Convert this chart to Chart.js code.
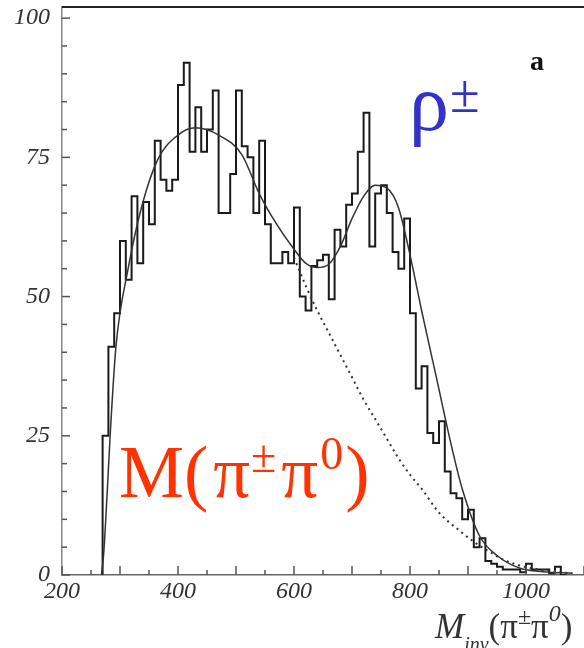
<!DOCTYPE html>
<html><head><meta charset="utf-8">
<script src="https://cdn.jsdelivr.net/npm/chart.js@4.4.0/dist/chart.umd.min.js"></script>
<style>html,body{margin:0;padding:0;background:#fff;overflow:hidden}</style>
</head><body>
<canvas id="c" width="584" height="648" style="display:block;width:584px;height:648px"></canvas>
<script>
// histogram bins (lower edge, MeV) and counts
const binLowEdges = [270,280,290,300,310,320,330,340,350,360,370,380,390,400,410,420,430,440,450,460,
  470,480,490,500,510,520,530,540,550,560,570,580,590,600,610,620,630,640,650,660,
  670,680,690,700,710,720,730,740,750,760,770,780,790,800,810,820,830,840,850,860,
  870,880,890,900,910,920,930,940,950,960,970,980,990,1000,1010,1020,1030,1040,1050,1060];
const counts = [4,25,41,47,60,53,68,56,67,63,78,71,69,71,88,92,76,84,76,80,
  87,65,65,72,87,77,75,65,78,63,56,56,58,56,66,50,47.5,55.5,56.5,57.5,
  49.5,62,59,66.5,68.5,76,83,59,68.5,70,65,58,55,64,47,33.5,37.5,25.5,23.7,27.6,
  18.6,14.7,13.8,10,11.7,5,6.6,2.5,2,1.5,1,1,1,0.5,2,1,1,1,0.3,1.5];
const binWidth = 10;
// total fit (solid)
const fitMass  = [268,272,278,283,293,314,337,365,400,430,470,510,540,570,600,620,640,660,680,700,720,740,760,780,800,820,845,873,890,920,950,990,1030,1080];
const fitTotal = [0,4,15,25,41,55,66,74.6,79,80.3,79,75.5,68.5,63,58.5,56,55.2,55.8,59,64,68,70,69.5,66,57.5,47.5,35.7,22.5,15.5,7,3.5,1.2,0.6,0.3];
// background only (dotted)
const bgMass  = [600,620,640,660,680,700,720,740,760,780,800,820,850,885,915,935,960,980,1000,1040,1080];
const bgValue = [57,52,47.5,43.5,39.5,35.5,31.5,28,24.5,21,18,15.5,11.2,8,5.6,4.3,2.8,2,1.4,0.7,0.3];
// tick labels
const xTickLabels = [200,400,600,800,1000];
const yTickLabels = [0,25,50,75,100];

const histData = [{x: binLowEdges[0], y: 0}]
  .concat(binLowEdges.map((m,i)=>({x:m, y:counts[i]})))
  .concat([{x: binLowEdges[binLowEdges.length-1] + binWidth, y: 0}]);

const SERIF = "'Liberation Serif','Times New Roman',serif";

function drawRuns(ctx, x, base, runs){
  let cx = x;
  runs.forEach(r=>{
    ctx.font = r.font; ctx.fillStyle = r.color;
    cx += (r.pre||0);
    ctx.fillText(r.text, cx, base - (r.dy||0));
    cx += ctx.measureText(r.text).width;
  });
}

const decor = {
  id:'decor',
  afterDraw(chart){
    const {ctx, chartArea:a, scales:{x,y}} = chart;
    ctx.save();
    // top frame line
    ctx.strokeStyle = '#222'; ctx.lineWidth = 2;
    ctx.beginPath(); ctx.moveTo(a.left, a.top); ctx.lineTo(a.right, a.top); ctx.stroke();
    // inward ticks
    ctx.strokeStyle = '#555'; ctx.lineWidth = 1.5;
    x.ticks.forEach(t=>{
      if (t.value % 50 !== 0) return;
      const px = x.getPixelForValue(t.value);
      const len = t.value % 100 === 0 ? 9 : 5;
      ctx.beginPath(); ctx.moveTo(px, a.bottom); ctx.lineTo(px, a.bottom - len); ctx.stroke();
    });
    y.ticks.forEach(t=>{
      if (t.value % 5 !== 0 || t.value > 100) return;
      const py = y.getPixelForValue(t.value);
      const len = t.value % 25 === 0 ? 8 : 5;
      ctx.beginPath(); ctx.moveTo(a.left, py); ctx.lineTo(a.left + len, py); ctx.stroke();
    });
    ctx.textBaseline = 'alphabetic'; ctx.textAlign = 'left';
    // rho label
    const blue = '#3232c8';
    drawRuns(ctx, 409, 130, [
      {text:'ρ', font:`80px ${SERIF}`, color:blue},
      {text:'±', font:`54px ${SERIF}`, color:blue, dy:18, pre:1}
    ]);
    // M(pi pi) label
    const red = '#ff3300';
    drawRuns(ctx, 119, 497, [
      {text:'M(', font:`73px ${SERIF}`, color:red},
      {text:'π', font:`73px ${SERIF}`, color:red, pre:5},
      {text:'±', font:`46px ${SERIF}`, color:red, dy:25, pre:1},
      {text:'π', font:`73px ${SERIF}`, color:red, pre:5},
      {text:'0', font:`46px ${SERIF}`, color:red, dy:28, pre:2},
      {text:')', font:`73px ${SERIF}`, color:red, pre:2}
    ]);
    // panel letter
    ctx.font = `bold 28px ${SERIF}`; ctx.fillStyle = '#111';
    ctx.fillText('a', 530, 70);
    // x axis title
    const g = '#333';
    drawRuns(ctx, 435, 638, [
      {text:'M', font:`italic 35px ${SERIF}`, color:g},
      {text:'inv', font:`italic 20px ${SERIF}`, color:g, dy:-13},
      {text:'(π', font:`35px ${SERIF}`, color:g},
      {text:'±', font:`24px ${SERIF}`, color:g, dy:14},
      {text:'π', font:`35px ${SERIF}`, color:g},
      {text:'0', font:`italic 24px ${SERIF}`, color:g, dy:17},
      {text:')', font:`35px ${SERIF}`, color:g}
    ]);
    ctx.restore();
  }
};

new Chart(document.getElementById('c'), {
  type: 'line',
  data: {
    datasets: [
      {label:'background', data: bgMass.map((m,i)=>({x:m,y:bgValue[i]})),
       borderColor:'#333', borderWidth:2, borderDash:[2,4], pointRadius:0,
       tension:0.4, cubicInterpolationMode:'monotone', fill:false},
      {label:'fit', data: fitMass.map((m,i)=>({x:m,y:fitTotal[i]})),
       borderColor:'#333', borderWidth:1.5, pointRadius:0,
       tension:0.4, cubicInterpolationMode:'monotone', fill:false},
      {label:'data', data: histData, stepped:'after', borderColor:'#1a1a1a',
       borderWidth:2, pointRadius:0, fill:false}
    ]
  },
  options: {
    responsive:false, animation:false, devicePixelRatio:1,
    layout:{padding:{top:7, right:0, left:0, bottom:0}},
    plugins:{legend:{display:false}, tooltip:{enabled:false}},
    scales:{
      x:{type:'linear', min:200, max:1100,
         grid:{display:false, drawTicks:false},
         border:{display:true, color:'#666', width:1.5},
         afterFit(s){ s.height = 73; s.paddingLeft = 0; s.paddingRight = 0; },
         ticks:{stepSize:50, autoSkip:false, maxRotation:0, padding:2, color:'#333', includeBounds:false,
           font:{family:SERIF, size:24, style:'italic'},
           callback:(v)=> xTickLabels.includes(v) ? String(v) : ''}},
      y:{min:0, max:102,
         grid:{display:false, drawTicks:false},
         border:{display:true, color:'#888', width:1.5},
         afterFit(s){ s.width = 62; s.paddingTop = 0; s.paddingBottom = 0; },
         ticks:{stepSize:5, autoSkip:false, padding:12, color:'#333', includeBounds:false,
           font:{family:SERIF, size:24, style:'italic'},
           callback:(v)=> yTickLabels.includes(v) ? String(v) : ''}}
    }
  },
  plugins:[decor]
});
</script>
</body></html>
